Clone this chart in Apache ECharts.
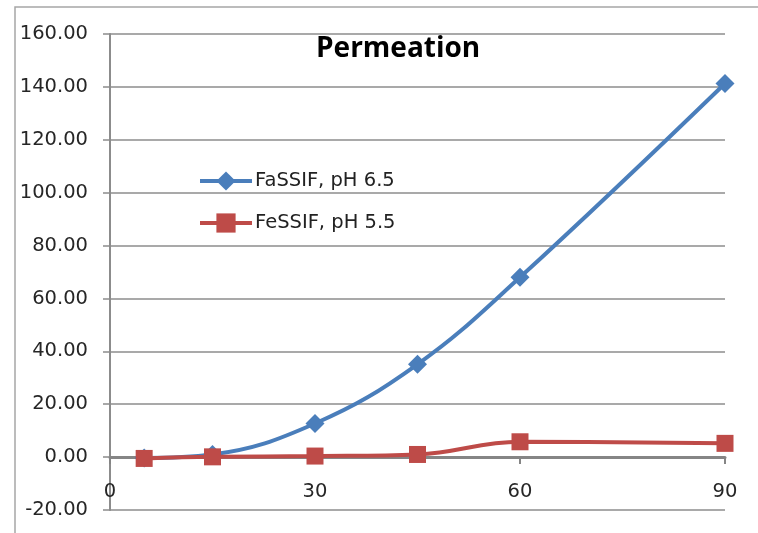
<!DOCTYPE html>
<html>
<head>
<meta charset="utf-8">
<script src="https://cdn.jsdelivr.net/npm/echarts@6/dist/echarts.min.js"></script>
<style>
  html, body { margin: 0; padding: 0; background: #fff; }
  #chart { width: 758px; height: 533px; }
</style>
</head>
<body>
<div id="chart"></div>
<script>
// Sampling times (min)
var times = [5, 15, 30, 45, 60, 90];
// Permeated amount per medium
var fassifValues = [-0.3, 1.0, 12.7, 35.1, 68.0, 141.3];
var fessifValues = [-0.5, 0.1, 0.4, 1.0, 5.8, 5.2];
var seriesNames = ['FaSSIF, pH 6.5', 'FeSSIF, pH 5.5'];
var titleText = 'Permeation';

function pairs(xs, ys) {
  return xs.map(function (x, i) { return [x, ys[i]]; });
}

var labelFont = 'DejaVu Sans';
var chart = echarts.init(document.getElementById('chart'));

chart.setOption({
  animation: false,
  backgroundColor: '#ffffff',
  title: {
    text: titleText,
    left: 311,
    top: 30,
    textStyle: { fontFamily: 'Open Sans', fontWeight: 'bold', fontSize: 28, color: '#000' }
  },
  legend: {
    orient: 'vertical',
    left: 193,
    top: 166,
    itemWidth: 52,
    itemHeight: 24,
    itemGap: 22,
    lineStyle: { width: 4 },
    textStyle: { fontFamily: labelFont, fontSize: 19.5, color: '#222', padding: [0, 0, 0, -2] },
    data: seriesNames
  },
  graphic: [{
    type: 'rect',
    shape: { x: 15, y: 7, width: 800, height: 600 },
    style: { fill: 'none', stroke: '#a6a6a6', lineWidth: 1.5 },
    silent: true
  }],
  grid: { left: 110, right: 33, top: 34, bottom: 23, outerBoundsMode: 'none', containLabel: false },
  xAxis: {
    type: 'value',
    min: 0,
    max: 90,
    interval: 30,
    axisLine: { onZero: true, lineStyle: { color: '#858585', width: 3 } },
    axisTick: { show: true, length: 7, lineStyle: { color: '#858585', width: 2 } },
    // labels sit just under the zero line, above the -20 gridline
    axisLabel: { margin: -28, fontFamily: labelFont, fontSize: 19.5, color: '#262626' },
    splitLine: { show: false }
  },
  yAxis: {
    type: 'value',
    min: -20,
    max: 160,
    interval: 20,
    axisLine: { show: true, lineStyle: { color: '#8c8c8c', width: 2 } },
    axisTick: { show: true, length: 7, lineStyle: { color: '#8c8c8c', width: 1.5 } },
    axisLabel: {
      margin: 22, fontFamily: labelFont, fontSize: 19.5, color: '#262626',
      formatter: function (v) { return v.toFixed(2); }
    },
    splitLine: { show: true, lineStyle: { color: '#8c8c8c', width: 1.5 } }
  },
  series: [
    {
      name: seriesNames[0],
      type: 'line',
      data: pairs(times, fassifValues),
      smooth: 0.4,
      symbol: 'diamond',
      symbolSize: 19,
      itemStyle: { color: '#4a7ebb' },
      lineStyle: { color: '#4a7ebb', width: 4 },
      z: 2
    },
    {
      name: seriesNames[1],
      type: 'line',
      data: pairs(times, fessifValues),
      smooth: 0.4,
      symbol: 'rect',
      symbolSize: 17,
      itemStyle: { color: '#be4b48' },
      lineStyle: { color: '#be4b48', width: 4 },
      z: 3
    }
  ]
});
</script>
</body>
</html>
